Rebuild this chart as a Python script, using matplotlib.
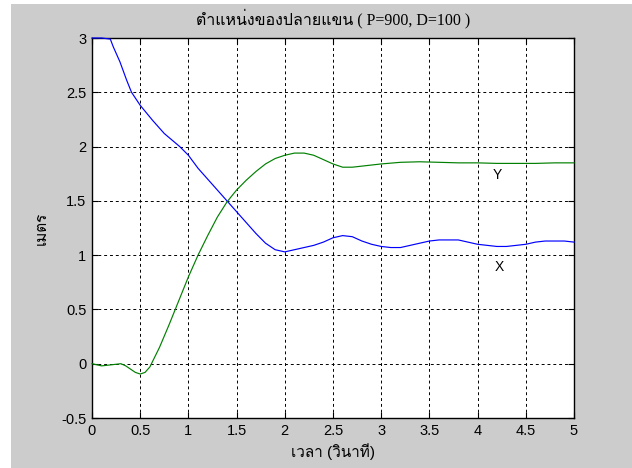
import numpy as np
import matplotlib
matplotlib.use('Agg')
import matplotlib.pyplot as plt
from matplotlib import font_manager as fm
from matplotlib.ft2font import FT2Font
from matplotlib.patches import Rectangle

# ---- data ----
t_x = [0, 0.1, 0.19, 0.22, 0.29, 0.36, 0.41, 0.5, 0.63, 0.75, 0.91, 1.0,
       1.1, 1.2, 1.3, 1.4, 1.5, 1.6, 1.7, 1.8, 1.9, 2.0, 2.1, 2.2, 2.3, 2.4,
       2.5, 2.6, 2.7, 2.8, 2.9, 3.0, 3.1, 3.2, 3.3, 3.4, 3.5, 3.6, 3.7, 3.8,
       3.9, 4.0, 4.1, 4.2, 4.3, 4.4, 4.5, 4.6, 4.7, 4.8, 4.9, 5.0]
x_pos = [3.0, 3.0, 2.99, 2.92, 2.78, 2.61, 2.5, 2.38, 2.24, 2.12, 2.0, 1.92,
         1.8, 1.7, 1.6, 1.5, 1.4, 1.3, 1.2, 1.11, 1.05, 1.03, 1.05, 1.07, 1.09, 1.12,
         1.16, 1.18, 1.17, 1.13, 1.1, 1.08, 1.07, 1.07, 1.09, 1.11, 1.13, 1.14, 1.14, 1.14,
         1.12, 1.1, 1.09, 1.08, 1.08, 1.09, 1.1, 1.12, 1.13, 1.13, 1.13, 1.12]

t_y = [0, 0.1, 0.2, 0.3, 0.35, 0.4, 0.45, 0.5, 0.55, 0.6, 0.7, 0.8, 0.9, 1.0,
       1.1, 1.2, 1.3, 1.4, 1.5, 1.6, 1.7, 1.8, 1.9, 2.0, 2.1, 2.2, 2.3, 2.4,
       2.5, 2.6, 2.7, 2.8, 2.9, 3.0, 3.2, 3.4, 3.6, 3.8, 4.0, 4.2, 4.4, 4.6, 4.8, 5.0]
y_pos = [0.0, -0.02, -0.01, 0.0, -0.02, -0.05, -0.08, -0.095, -0.08, -0.03, 0.15, 0.36, 0.58, 0.8,
         1.0, 1.18, 1.35, 1.49, 1.6, 1.69, 1.77, 1.84, 1.89, 1.92, 1.94, 1.94, 1.92, 1.88,
         1.84, 1.81, 1.81, 1.82, 1.83, 1.84, 1.855, 1.86, 1.855, 1.85, 1.85, 1.845, 1.845, 1.845, 1.85, 1.85]

xticks = [0, 0.5, 1, 1.5, 2, 2.5, 3, 3.5, 4, 4.5, 5]
xtick_labels = ['0', '0.5', '1', '1.5', '2', '2.5', '3', '3.5', '4', '4.5', '5']
yticks = [-0.5, 0, 0.5, 1, 1.5, 2, 2.5, 3]
ytick_labels = ['-0.5', '0', '0.5', '1', '1.5', '2', '2.5', '3']

title = 'ตำแหน่งของปลายแขน ( P=900, D=100 )'
xlabel = 'เวลา (วินาที)'
ylabel = 'เมตร'

# ---- find a font that has Thai glyphs ----
thai_font = None
for f in fm.fontManager.ttflist:
    try:
        cmap = FT2Font(f.fname).get_charmap()
    except Exception:
        continue
    if 0x0E15 in cmap and 0x0E33 in cmap:
        thai_font = f.name
        break
fams_sans = ['Liberation Sans'] + ([thai_font] if thai_font else []) + ['DejaVu Sans']
fams_serif = ['Liberation Serif'] + ([thai_font] if thai_font else []) + ['DejaVu Sans']

W, H = 632, 468
fig = plt.figure(figsize=(W / 100, H / 100), dpi=100, facecolor='white')
fig.patches.append(Rectangle((11 / W, 0), 1 - 11 / W, 1 - 4 / H, transform=fig.transFigure,
                             facecolor='#cccccc', edgecolor='none', zorder=-10))

ax = fig.add_axes([92 / W, 1 - 418 / H, (574 - 92) / W, (418 - 38) / H])
ax.set_facecolor('white')

ax.plot(t_x, x_pos, color=(0, 0, 1), lw=0.85, clip_on=False, zorder=5)
ax.plot(t_y, y_pos, color=(0, 0.5, 0), lw=0.85, clip_on=False, zorder=5)

ax.text(4.2, 1.74, 'Y', fontsize=10, family=fams_sans, ha='center', va='center')
ax.text(4.23, 0.89, 'X', fontsize=10, family=fams_sans, ha='center', va='center')

ax.set_xlim(0, 5)
ax.set_ylim(-0.5, 3)
ax.set_xticks(xticks)
ax.set_xticklabels(xtick_labels, family=fams_sans, fontsize=10.5)
ax.set_yticks(yticks)
ax.set_yticklabels(ytick_labels, family=fams_sans, fontsize=10.5)
ax.tick_params(direction='in', length=4, top=True, right=True, width=0.8, pad=4)

ax.grid(True, color='black', linestyle=(0, (3, 3)), lw=0.7)
for s in ax.spines.values():
    s.set_linewidth(1.0)

ax.set_title(title, family=fams_serif, fontsize=11.5, pad=10)
ax.set_xlabel(xlabel, family=fams_sans, fontsize=11, labelpad=4)
ax.set_ylabel(ylabel, family=fams_sans, fontsize=11, labelpad=9)

fig.savefig('out.png', dpi=100, facecolor=fig.get_facecolor())
